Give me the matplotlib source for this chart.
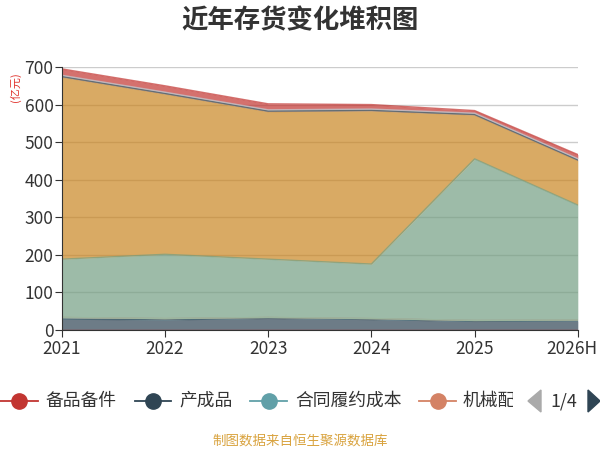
import matplotlib
matplotlib.use('Agg')
import matplotlib.pyplot as plt
import numpy as np
from matplotlib.lines import Line2D
from matplotlib.transforms import Bbox, ScaledTranslation
from matplotlib.patches import Polygon

plt.rcParams['font.family'] = ['Noto Sans CJK SC', 'DejaVu Sans']

years = ['2021', '2022', '2023', '2024', '2025', '2026H']
series_names = ['备品备件', '产成品', '合同履约成本', '机械配件', '开发成本', '库存商品',
                '原材料', '在产品', '周转材料', '委托加工物资', '发出商品', '其他']
beipin = [1, 1, 1, 1, 1, 1]
chanchengpin = [28, 26, 30, 27, 22, 23]
hetong = [4, 3, 2, 2, 2, 2]
jixie = [0.3, 0.3, 0.3, 0.3, 0.3, 0.3]
kaifa = [0.2, 0.2, 0.2, 0.2, 0.2, 0.2]
kucun = [155, 171, 155, 145, 430, 306]
yuancailiao = [485, 427, 393, 408, 117, 119]
zaichanpin = [0.3, 0.3, 0.3, 0.3, 0.3, 0.3]
zhouzhuan = [1, 1, 1, 1, 1, 1]
weituo = [0.3, 0.3, 0.3, 0.3, 0.3, 0.3]
fachu = [3, 3, 3, 3, 3, 3]
qita = [17, 17, 16, 12, 7, 11]
series_values = [beipin, chanchengpin, hetong, jixie, kaifa, kucun,
                 yuancailiao, zaichanpin, zhouzhuan, weituo, fachu, qita]
palette = ['#c23531', '#2f4554', '#61a0a8', '#d48265', '#91c7ae', '#749f83',
           '#ca8622', '#bda29a', '#6e7074', '#546570', '#c4ccd3', '#c23531']

fig = plt.figure(figsize=(6, 4.5), dpi=100)
ax = fig.add_axes([0.103, 0.2667, 0.86, 0.5843])

x = np.arange(len(years))
cum = np.zeros(len(years))
for name, vals, col in zip(series_names, series_values, palette):
    top = cum + np.array(vals, dtype=float)
    ax.fill_between(x, cum, top, color=col, alpha=0.7, lw=0, zorder=2)
    ax.plot(x, top, color=col, alpha=0.7, lw=1, zorder=3)
    cum = top

ax.set_xlim(0, len(years) - 1)
ax.set_ylim(0, 700)
ax.set_yticks(np.arange(0, 701, 100))
ax.set_xticks(x)
ax.set_xticklabels(years)
ax.grid(axis='y', color='#cccccc', lw=1, zorder=0)
ax.set_axisbelow(True)
for s in ['top', 'right']:
    ax.spines[s].set_visible(False)
for s in ['left', 'bottom']:
    ax.spines[s].set_color('#333333')
    ax.spines[s].set_zorder(4)
ax.tick_params(axis='both', colors='#333333', length=5)
ax.tick_params(axis='y', pad=1, labelsize=12.5)
ax.tick_params(axis='x', pad=2, labelsize=12.5)
last = ax.get_xticklabels()[-1]
last.set_transform(last.get_transform() + ScaledTranslation(-4 / 72, 0, fig.dpi_scale_trans))

fig.text(0.5, 1 - 21 / 450, '近年存货变化堆积图', ha='center', va='center',
         fontsize=19, fontweight='bold', color='#333333')
fig.text(0.026, 1 - 87 / 450, '(亿元)', rotation=90, ha='center', va='center',
         fontsize=8, color='#e0302a')

# legend
ly = 1 - 401 / 450
items = [(0, 38, '备品备件', 45), (135, 171, '产成品', 179),
         (250, 287, '合同履约成本', 295), (419, 456, '机械配件', 463)]
for (x0, x1, name, tx), col in zip(items, palette[:4]):
    fig.add_artist(Line2D([x0 / 600, x1 / 600], [ly, ly], color=col, lw=1.3,
                          transform=fig.transFigure))
    fig.add_artist(Line2D([(x0 + x1) / 1200], [ly], marker='o', markersize=11,
                          color=col, transform=fig.transFigure))
    t = fig.text(tx / 600, ly, name, ha='left', va='center', fontsize=12.8,
                 color='#333333')
    t.set_clip_box(Bbox.from_extents(0, 0, 513, 450))
    t.set_clip_on(True)

fig.add_artist(Polygon([[528 / 600, ly], [541 / 600, ly + 11 / 450], [541 / 600, ly - 11 / 450]],
                       closed=True, color='#aaaaaa', transform=fig.transFigure))
fig.text(564 / 600, ly, '1/4', ha='center', va='center', fontsize=12.8, color='#333333')
fig.add_artist(Polygon([[600 / 600, ly], [588 / 600, ly + 11 / 450], [588 / 600, ly - 11 / 450]],
                       closed=True, color='#2f4554', transform=fig.transFigure))

fig.text(0.5, 1 - 441 / 450, '制图数据来自恒生聚源数据库', ha='center', va='center',
         fontsize=9.7, color='#d9a33f')

fig.savefig('out.png', dpi=100)
